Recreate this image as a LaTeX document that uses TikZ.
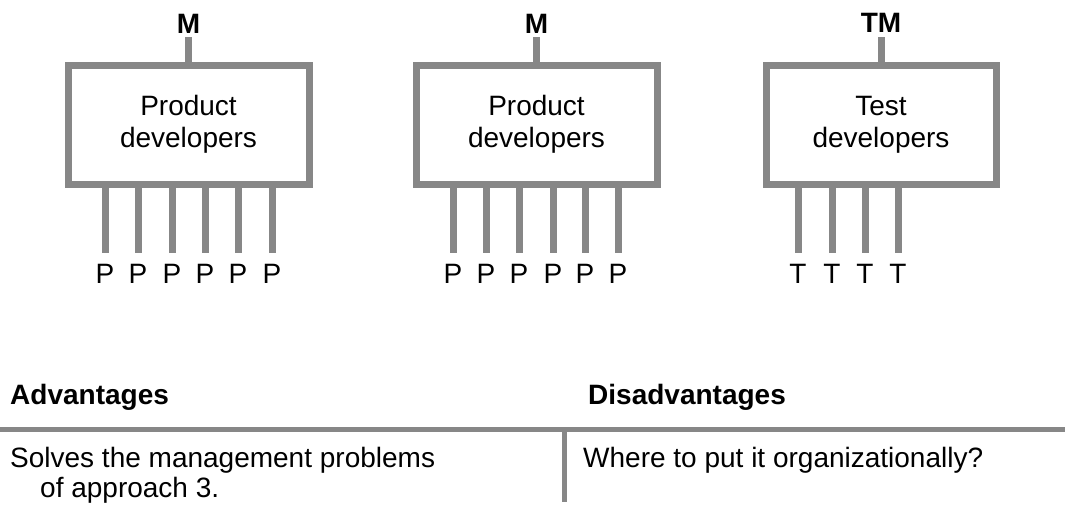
\documentclass[tikz,border=0pt]{standalone}
\usepackage{fontspec}
\setmainfont{Liberation Sans}
\definecolor{linegray}{rgb}{0.53,0.53,0.53}
\begin{document}
\begin{tikzpicture}[x=1pt,y=-1pt,
  txt/.style={inner sep=0pt,font=\fontsize{28}{32}\selectfont},
  box/.style={draw=linegray,line width=7pt,minimum width=241pt,minimum height=119pt,
    align=center,inner sep=0pt,font=\fontsize{28}{32}\selectfont},
  stem/.style={draw=linegray,line width=7pt},
  rule/.style={draw=linegray,line width=5pt},
  lbl/.style={txt,anchor=base},
  mlbl/.style={txt,anchor=base,font=\fontsize{28}{32}\selectfont\bfseries},
  head/.style={txt,anchor=base west,font=\fontsize{28}{32}\selectfont\bfseries},
  body/.style={txt,anchor=base west}]
\useasboundingbox (0,0) rectangle (1065,506);

% boxes
\node[box] (b1) at (188.5,124.5) {Product\\developers};
\node[box] (b2) at (536.5,124.5) {Product\\developers};
\node[box,minimum width=230pt] (b3) at (881,124.5) {Test\\developers};

% managers
\node[mlbl] (m1) at (188.5,33) {M};
\node[mlbl] (m2) at (536.5,33) {M};
\node[mlbl] (m3) at (881,32) {TM};
\draw[stem,shorten <=4pt] (m1.base -| b1.north) -- (b1.north);
\draw[stem,shorten <=4pt] (m2.base -| b2.north) -- (b2.north);
\draw[stem,shorten <=5pt] (m3.base -| b3.north) -- (b3.north);

% product developers 1
\foreach \i/\x in {1/105,2/138,3/172,4/205,5/238,6/272}{
  \node[lbl] (pa\i) at (\x,283) {P};
  \draw[stem] (b1.south -| pa\i.base) -- ([yshift=30pt]pa\i.base);
}
% product developers 2
\foreach \i/\x in {1/453,2/486,3/519,4/553,5/585,6/618}{
  \node[lbl] (pb\i) at (\x,283) {P};
  \draw[stem] (b2.south -| pb\i.base) -- ([yshift=30pt]pb\i.base);
}
% test developers
\foreach \i/\x in {1/798,2/832,3/865,4/898}{
  \node[lbl] (t\i) at (\x,283) {T};
  \draw[stem] (b3.south -| t\i.base) -- ([yshift=30pt]t\i.base);
}

% table
\node[head] (adv) at (10,404) {Advantages};
\node[head] (dis) at (588,404) {Disadvantages};
\coordinate (hl) at (0,429);
\coordinate (hr) at (1065,429);
\coordinate (vt) at (564,429);
\coordinate (vb) at (564,502);
\draw[rule] (hl) -- (hr);
\draw[rule] (vt) -- (vb);
\node[body] (a1) at (10,467) {Solves the management problems};
\node[body] (a2) at (40,497) {of approach 3.};
\node[body] (d1) at (583,467) {Where to put it organizationally?};
\end{tikzpicture}
\end{document}
